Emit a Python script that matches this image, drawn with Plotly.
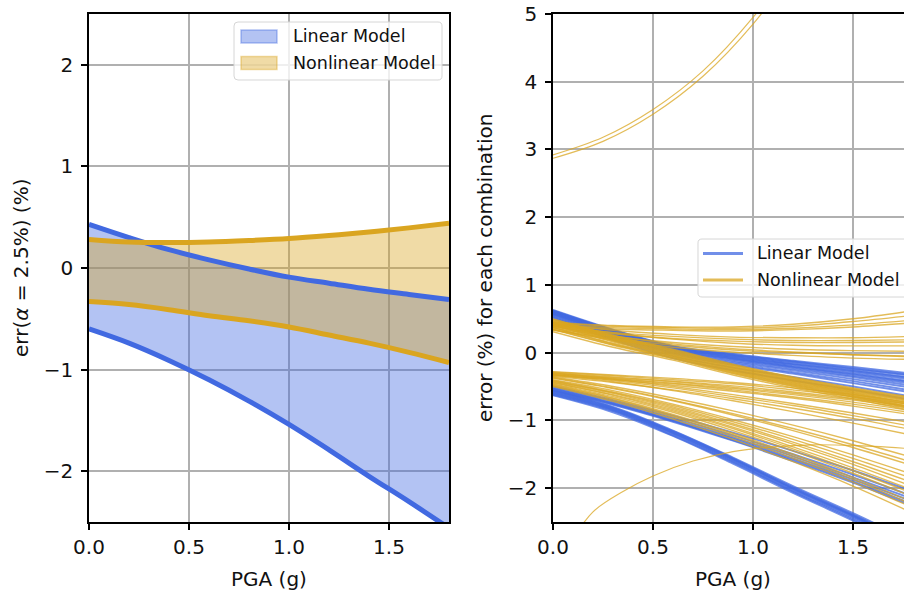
import plotly.graph_objects as go

W, H = 904, 594

# ---------------- data ----------------
# Left panel: bounds of err(alpha = 2.5%) versus PGA
PGA_BOUNDS = [0.0, 0.2, 0.4, 0.6, 0.8, 1.0, 1.2, 1.4, 1.6, 1.8]
LIN_UPPER = [0.43, 0.30, 0.18, 0.08, -0.01, -0.09, -0.15, -0.21, -0.26, -0.31]
LIN_LOWER = [-0.60, -0.74, -0.91, -1.10, -1.31, -1.54, -1.79, -2.05, -2.30, -2.56]
NL_UPPER = [0.28, 0.255, 0.25, 0.255, 0.27, 0.29, 0.32, 0.355, 0.395, 0.44]
NL_LOWER = [-0.33, -0.36, -0.41, -0.47, -0.52, -0.58, -0.66, -0.74, -0.83, -0.93]

# Right panel: error for every parameter combination
PGA_COMB = [0.0, 0.3, 0.6, 0.9, 1.2, 1.5, 1.8]

LIN_COMB = [
    # upper bounds
    [0.63, 0.34, 0.10, -0.02, -0.12, -0.21, -0.31],
    [0.62, 0.33, 0.09, -0.03, -0.13, -0.23, -0.33],
    [0.62, 0.33, 0.09, -0.04, -0.14, -0.24, -0.34],
    [0.61, 0.32, 0.08, -0.05, -0.16, -0.26, -0.37],
    [0.60, 0.31, 0.07, -0.06, -0.17, -0.27, -0.38],
    [0.60, 0.31, 0.07, -0.07, -0.18, -0.29, -0.40],
    [0.59, 0.30, 0.06, -0.08, -0.20, -0.31, -0.43],
    [0.58, 0.29, 0.04, -0.09, -0.21, -0.32, -0.44],
    [0.58, 0.29, 0.04, -0.10, -0.22, -0.34, -0.46],
    [0.57, 0.28, 0.03, -0.12, -0.24, -0.36, -0.49],
    [0.56, 0.26, 0.01, -0.14, -0.26, -0.39, -0.52],
    [0.55, 0.25, 0.00, -0.16, -0.29, -0.42, -0.56],
    [0.53, 0.23, -0.02, -0.18, -0.31, -0.45, -0.59],
    [0.52, 0.21, -0.05, -0.22, -0.36, -0.50, -0.65],
    [0.50, 0.19, -0.08, -0.26, -0.41, -0.55, -0.70],
    # lower bounds
    [-0.52, -0.72, -0.96, -1.22, -1.50, -1.80, -2.12],
    [-0.54, -0.75, -1.00, -1.27, -1.56, -1.87, -2.20],
    [-0.50, -0.70, -0.93, -1.18, -1.45, -1.74, -2.05],
    [-0.56, -0.77, -1.02, -1.30, -1.60, -1.92, -2.27],
    [-0.53, -0.74, -0.98, -1.25, -1.53, -1.84, -2.16],
    [-0.55, -0.76, -1.01, -1.29, -1.58, -1.90, -2.24],
    [-0.56, -0.80, -1.15, -1.55, -1.97, -2.37, -2.79],
    [-0.57, -0.81, -1.16, -1.56, -1.99, -2.39, -2.81],
    [-0.58, -0.82, -1.17, -1.57, -2.00, -2.40, -2.83],
    [-0.59, -0.83, -1.18, -1.58, -2.01, -2.41, -2.84],
    [-0.60, -0.84, -1.19, -1.59, -2.02, -2.42, -2.85],
    [-0.61, -0.85, -1.20, -1.61, -2.04, -2.44, -2.87],
    [-0.62, -0.86, -1.22, -1.62, -2.05, -2.46, -2.89],
    [-0.63, -0.88, -1.23, -1.64, -2.07, -2.48, -2.91],
]

NL_COMB = [
    # upper bounds, nearly flat
    [0.45, 0.40, 0.38, 0.38, 0.42, 0.50, 0.62],
    [0.44, 0.39, 0.37, 0.36, 0.39, 0.46, 0.55],
    [0.42, 0.37, 0.35, 0.34, 0.36, 0.41, 0.48],
    [0.40, 0.35, 0.33, 0.32, 0.34, 0.38, 0.44],
    [0.43, 0.33, 0.27, 0.23, 0.22, 0.22, 0.24],
    [0.40, 0.30, 0.24, 0.20, 0.18, 0.18, 0.19],
    [0.38, 0.28, 0.21, 0.17, 0.15, 0.15, 0.16],
    [0.42, 0.29, 0.20, 0.14, 0.11, 0.10, 0.10],
    [0.36, 0.24, 0.15, 0.09, 0.05, 0.03, 0.02],
    [0.34, 0.21, 0.11, 0.04, 0.00, -0.03, -0.05],
    [0.39, 0.25, 0.13, 0.06, 0.01, -0.03, -0.06],
    [0.33, 0.19, 0.08, 0.01, -0.04, -0.08, -0.10],
    # upper bounds, decreasing
    [0.50, 0.26, 0.05, -0.17, -0.36, -0.52, -0.66],
    [0.49, 0.25, 0.04, -0.18, -0.37, -0.53, -0.67],
    [0.48, 0.24, 0.03, -0.19, -0.38, -0.54, -0.68],
    [0.47, 0.23, 0.02, -0.20, -0.39, -0.55, -0.70],
    [0.46, 0.22, 0.01, -0.21, -0.40, -0.56, -0.71],
    [0.45, 0.21, 0.00, -0.22, -0.41, -0.57, -0.72],
    [0.44, 0.20, -0.01, -0.23, -0.42, -0.58, -0.73],
    [0.43, 0.19, -0.02, -0.24, -0.43, -0.59, -0.75],
    [0.42, 0.18, -0.03, -0.25, -0.44, -0.60, -0.76],
    [0.41, 0.17, -0.04, -0.26, -0.45, -0.61, -0.77],
    [0.40, 0.16, -0.05, -0.27, -0.46, -0.62, -0.78],
    [0.38, 0.14, -0.06, -0.28, -0.47, -0.63, -0.80],
    [0.37, 0.13, -0.07, -0.29, -0.48, -0.64, -0.81],
    [0.35, 0.12, -0.08, -0.30, -0.49, -0.65, -0.82],
    [0.34, 0.11, -0.09, -0.31, -0.50, -0.66, -0.83],
    [0.31, 0.08, -0.11, -0.33, -0.52, -0.68, -0.86],
    # lower bounds, mild
    [-0.28, -0.33, -0.38, -0.44, -0.52, -0.62, -0.74],
    [-0.29, -0.34, -0.40, -0.46, -0.55, -0.65, -0.77],
    [-0.30, -0.36, -0.42, -0.49, -0.58, -0.68, -0.80],
    [-0.31, -0.37, -0.43, -0.51, -0.60, -0.70, -0.83],
    [-0.32, -0.38, -0.45, -0.53, -0.62, -0.73, -0.86],
    [-0.33, -0.39, -0.46, -0.55, -0.65, -0.76, -0.89],
    [-0.34, -0.40, -0.48, -0.57, -0.67, -0.79, -0.92],
    [-0.30, -0.39, -0.50, -0.62, -0.75, -0.89, -1.04],
    [-0.32, -0.41, -0.52, -0.65, -0.78, -0.93, -1.09],
    [-0.35, -0.44, -0.55, -0.68, -0.82, -0.97, -1.14],
    [-0.33, -0.43, -0.56, -0.71, -0.87, -1.04, -1.22],
    # lower bounds, steep
    [-0.36, -0.50, -0.67, -0.86, -1.07, -1.30, -1.55],
    [-0.37, -0.52, -0.70, -0.90, -1.12, -1.36, -1.62],
    [-0.38, -0.53, -0.71, -0.92, -1.15, -1.40, -1.67],
    [-0.40, -0.56, -0.76, -0.99, -1.24, -1.51, -1.80],
    [-0.41, -0.58, -0.78, -1.02, -1.28, -1.56, -1.86],
    [-0.42, -0.59, -0.80, -1.05, -1.32, -1.61, -1.92],
    [-0.43, -0.60, -0.82, -1.07, -1.35, -1.65, -1.98],
    [-0.44, -0.62, -0.84, -1.10, -1.39, -1.70, -2.03],
    [-0.45, -0.63, -0.86, -1.12, -1.42, -1.74, -2.08],
    [-0.46, -0.65, -0.88, -1.15, -1.45, -1.78, -2.13],
    [-0.47, -0.67, -0.91, -1.19, -1.50, -1.84, -2.21],
    [-0.48, -0.68, -0.93, -1.21, -1.53, -1.87, -2.25],
    [-0.49, -0.70, -0.95, -1.24, -1.56, -1.91, -2.29],
    [-0.50, -0.72, -0.98, -1.28, -1.61, -1.97, -2.37],
]

# combinations with unusual behaviour
PGA_HIGH = [0.0, 0.25, 0.5, 0.75, 1.0, 1.25]
NL_HIGH = [
    [2.87, 3.12, 3.52, 4.08, 4.85, 5.85],
    [2.92, 3.18, 3.59, 4.16, 4.95, 5.95],
]
PGA_ARC = [0.1, 0.2, 0.35, 0.5, 0.7, 0.9, 1.1, 1.3, 1.5, 1.8]
NL_ARC = [-2.75, -2.35, -2.05, -1.82, -1.60, -1.46, -1.39, -1.36, -1.37, -1.42]

X_TICKS = [0.0, 0.5, 1.0, 1.5]
X_TICKTEXT = ["0.0", "0.5", "1.0", "1.5"]
Y_TICKS_L = [-2, -1, 0, 1, 2]
Y_TICKS_R = [-2, -1, 0, 1, 2, 3, 4, 5]

SERIES = ["Linear Model", "Nonlinear Model"]

# ---------------- style ----------------
BLUE = "65,105,225"      # royalblue
GOLD = "218,165,32"      # goldenrod
FONT = "DejaVu Sans"
INK = "#111111"
COMB_ALPHA = 0.75


def rgba(c, a):
    return f"rgba({c},{a})"


def fx(p):
    return p / W


def fy(p):
    return 1 - p / H


fig = go.Figure()

# ---- left panel: shaded bands ----
for lo, hi, col in [(LIN_LOWER, LIN_UPPER, BLUE), (NL_LOWER, NL_UPPER, GOLD)]:
    fig.add_trace(go.Scatter(x=PGA_BOUNDS, y=lo, mode="lines", line=dict(width=0, shape="spline"),
                             showlegend=False, hoverinfo="skip", xaxis="x", yaxis="y"))
    fig.add_trace(go.Scatter(x=PGA_BOUNDS, y=hi, mode="lines", line=dict(width=0, shape="spline"),
                             fill="tonexty", fillcolor=rgba(col, 0.4),
                             showlegend=False, hoverinfo="skip", xaxis="x", yaxis="y"))
for ys, col in [(LIN_UPPER, BLUE), (LIN_LOWER, BLUE), (NL_UPPER, GOLD), (NL_LOWER, GOLD)]:
    fig.add_trace(go.Scatter(x=PGA_BOUNDS, y=ys, mode="lines",
                             line=dict(width=5, color=rgba(col, 1), shape="spline"),
                             showlegend=False, xaxis="x", yaxis="y"))


# ---- right panel: one line per combination ----
def add_comb(xs, ys, col, width):
    fig.add_trace(go.Scatter(x=xs, y=ys, mode="lines",
                             line=dict(width=width, color=rgba(col, COMB_ALPHA), shape="spline"),
                             showlegend=False, xaxis="x2", yaxis="y2"))


for ys in LIN_COMB:
    add_comb(PGA_COMB, ys, BLUE, 1.9)
for ys in NL_COMB:
    add_comb(PGA_COMB, ys, GOLD, 1.4)
for ys in NL_HIGH:
    add_comb(PGA_HIGH, ys, GOLD, 1.2)
add_comb(PGA_ARC, NL_ARC, GOLD, 1.2)

# ---------------- axes ----------------
Y0, Y1 = fy(522), fy(14)
axis_common = dict(
    automargin=False,
    showline=True, linecolor="black", linewidth=1.6,
    ticks="outside", ticklen=6, tickwidth=1.6, tickcolor="black",
    showgrid=True, gridcolor="#b0b0b0", gridwidth=1.6, zeroline=False,
    tickfont=dict(family=FONT, size=20, color=INK),
)

fig.update_layout(
    width=W, height=H,
    margin=dict(l=0, r=0, t=0, b=0, autoexpand=False),
    paper_bgcolor="white", plot_bgcolor="white",
    showlegend=False,
    xaxis=dict(domain=[fx(89), fx(449)], range=[0, 1.8], anchor="y", mirror=True,
               tickmode="array", tickvals=X_TICKS, ticktext=X_TICKTEXT, **axis_common),
    yaxis=dict(domain=[Y0, Y1], range=[-2.5, 2.5], anchor="x", mirror=True, ticklabelstandoff=4,
               tickmode="array", tickvals=Y_TICKS_L,
               ticktext=[str(v).replace("-", "\u2212") for v in Y_TICKS_L], **axis_common),
    xaxis2=dict(domain=[fx(553), 1.0], range=[0, (W - 553) / 200], anchor="y2", mirror=True,
                tickmode="array", tickvals=X_TICKS, ticktext=X_TICKTEXT, **axis_common),
    yaxis2=dict(domain=[Y0, Y1], range=[-2.5, 5], anchor="x2", mirror=False, ticklabelstandoff=4,
                tickmode="array", tickvals=Y_TICKS_R,
                ticktext=[str(v).replace("-", "\u2212") for v in Y_TICKS_R], **axis_common),
)

# ---------------- axis titles ----------------
title_font = dict(family=FONT, size=20, color=INK)
annotations = [
    dict(text="PGA (g)", x=fx(269), y=fy(579), xref="paper", yref="paper",
         xanchor="center", yanchor="middle", showarrow=False, font=title_font),
    dict(text="PGA (g)", x=fx(733), y=fy(579), xref="paper", yref="paper",
         xanchor="center", yanchor="middle", showarrow=False, font=title_font),
    dict(text="err(<i>α</i> = 2.5%) (%)", x=fx(21), y=fy(268), xref="paper", yref="paper",
         xanchor="center", yanchor="middle", textangle=-90, showarrow=False, font=title_font),
    dict(text="error (%) for each combination", x=fx(485), y=fy(268), xref="paper", yref="paper",
         xanchor="center", yanchor="middle", textangle=-90, showarrow=False, font=title_font),
]


# ---------------- legends ----------------
def rounded_box(x0, y0, x1, y1, r=4):
    X = lambda p: f"{fx(p):.5f}"
    Y = lambda p: f"{fy(p):.5f}"
    return (f"M {X(x0 + r)},{Y(y0)} L {X(x1 - r)},{Y(y0)} Q {X(x1)},{Y(y0)} {X(x1)},{Y(y0 + r)} "
            f"L {X(x1)},{Y(y1 - r)} Q {X(x1)},{Y(y1)} {X(x1 - r)},{Y(y1)} "
            f"L {X(x0 + r)},{Y(y1)} Q {X(x0)},{Y(y1)} {X(x0)},{Y(y1 - r)} "
            f"L {X(x0)},{Y(y0 + r)} Q {X(x0)},{Y(y0)} {X(x0 + r)},{Y(y0)} Z")


legend_font = dict(family=FONT, size=17.5, color=INK)
shapes = []

# left legend: filled patches
shapes.append(dict(type="path", path=rounded_box(234, 22, 442, 80), xref="paper", yref="paper",
                   fillcolor="rgba(255,255,255,0.8)", line=dict(color="#d6d6d6", width=1)))
for i, (name, col) in enumerate(zip(SERIES, [BLUE, GOLD])):
    yc = 36.5 + 26.5 * i
    shapes.append(dict(type="rect", xref="paper", yref="paper",
                       x0=fx(241), x1=fx(277), y0=fy(yc - 6.5), y1=fy(yc + 6.5),
                       fillcolor=rgba(col, 0.4), line=dict(color=rgba(col, 0.4), width=1.5)))
    annotations.append(dict(text=name, x=fx(291), y=fy(yc), xref="paper", yref="paper",
                            xanchor="left", yanchor="middle", showarrow=False, font=legend_font))

# right legend: line handles
shapes.append(dict(type="path", path=rounded_box(698, 239, 940, 297), xref="paper", yref="paper",
                   fillcolor="rgba(255,255,255,0.8)", line=dict(color="#d6d6d6", width=1)))
for i, (name, col) in enumerate(zip(SERIES, [BLUE, GOLD])):
    yc = 253.5 + 26.5 * i
    shapes.append(dict(type="line", xref="paper", yref="paper",
                       x0=fx(703), x1=fx(743), y0=fy(yc), y1=fy(yc),
                       line=dict(color=rgba(col, 0.75), width=3)))
    annotations.append(dict(text=name, x=fx(755), y=fy(yc), xref="paper", yref="paper",
                            xanchor="left", yanchor="middle", showarrow=False, font=legend_font))

fig.update_layout(annotations=annotations, shapes=shapes)

fig.write_html("out.html")
